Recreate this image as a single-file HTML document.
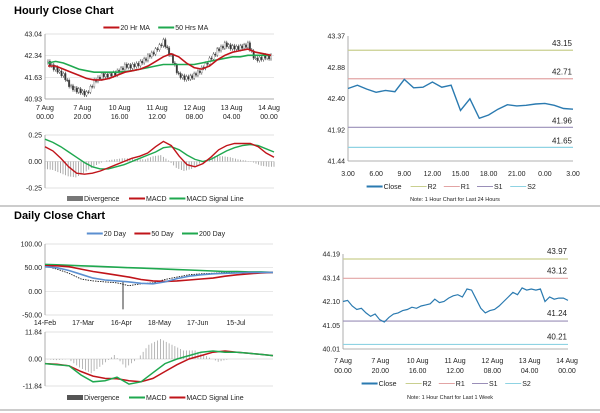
<!DOCTYPE html>
<html><head><meta charset="utf-8">
<style>
body{margin:0;background:#fff;width:600px;height:413px;overflow:hidden;font-family:"Liberation Sans",sans-serif}
svg{position:absolute;left:0;top:0}
</style></head>
<body>
<svg id="s" width="600" height="413" xmlns="http://www.w3.org/2000/svg" font-family="Liberation Sans, sans-serif">
<text x="14" y="14" font-size="11" font-weight="bold">Hourly Close Chart</text>
<text x="14" y="219" font-size="11" font-weight="bold">Daily Close Chart</text>
<line x1="0" y1="206" x2="600" y2="206" stroke="#999" stroke-width="1"/>
<line x1="0" y1="410" x2="600" y2="410" stroke="#999" stroke-width="1"/>
</svg>
<script>
// ---- data ----
const hClose=[42.1,41.9,41.7,41.3,41.2,41.1,41.5,41.7,41.7,41.8,42.0,42.0,42.1,42.3,42.5,42.8,42.3,41.7,41.6,41.7,41.9,42.2,42.5,42.7,42.6,42.6,42.7,42.2,42.3,42.3];
const hMa20=[42.0,42.0,41.9,41.8,41.7,41.6,41.55,41.55,41.6,41.7,41.8,41.85,41.9,42.0,42.15,42.3,42.4,42.3,42.1,41.95,41.9,42.0,42.2,42.35,42.45,42.5,42.55,42.45,42.4,42.35];
const hMa50=[42.1,42.15,42.1,42.0,41.9,41.85,41.8,41.8,41.8,41.8,41.82,41.85,41.9,41.95,42.0,42.05,42.05,42.05,42.05,42.05,42.1,42.15,42.2,42.25,42.3,42.3,42.35,42.35,42.35,42.35];
const hTicks=["40.93","41.63","42.34","43.04"];
const hXLabels=[["7 Aug","00.00"],["7 Aug","20.00"],["10 Aug","16.00"],["11 Aug","12.00"],["12 Aug","08.00"],["13 Aug","04.00"],["14 Aug","00.00"]];
const hMacd=[0.14,0.10,0.03,-0.05,-0.11,-0.12,-0.11,-0.09,-0.06,-0.03,0.0,0.03,0.05,0.08,0.14,0.19,0.15,0.05,-0.03,-0.05,-0.02,0.04,0.11,0.15,0.17,0.17,0.17,0.14,0.08,0.04];
const hSignal=[0.21,0.18,0.14,0.09,0.04,-0.01,-0.05,-0.07,-0.07,-0.05,-0.03,0.0,0.03,0.06,0.09,0.13,0.14,0.11,0.06,0.02,0.0,0.02,0.06,0.10,0.13,0.15,0.16,0.15,0.12,0.09];
const dayClose=[42.56,42.61,42.55,42.50,42.53,42.51,42.70,42.57,42.58,42.66,42.58,42.61,42.22,42.40,42.10,42.15,42.24,42.31,42.29,42.30,42.32,42.33,42.30,42.25,42.24];
const dayXLabels=["3.00","6.00","9.00","12.00","15.00","18.00","21.00","0.00","3.00"];
const dayLevels=[43.15,42.71,41.96,41.65];
const dayTicks=["41.44","41.92","42.40","42.88","43.37"];
const d20=[52,50,44,36,28,24,22,20,17,16,20,27,32,35,37,38,39,40,40,40];
const d50=[54,54,52,47,42,38,34,30,25,22,21,22,24,26,28,32,35,37,39,40];
const d200=[57,56,55,54,53,52,51,50,49,48,47,46,45,44,43,42,42,41,41,40];
const dPrice=[53,47,38,26,22,20,18,12,16,18,25,30,35,37,38,40,41,40,40,40];
const dSpike=[6,-38];
const dTicks=["-50.00","0.00","50.00","100.00"];
const dXLabels=["14-Feb","17-Mar","16-Apr","18-May","17-Jun","15-Jul"];
const dMacd=[-2,-2.5,-3,-7,-10,-9.5,-8,-11,-10,-6,-2,0,1.5,3,3.5,3,3,2.5,2,1.5];
const dSignal=[-2,-2.3,-3,-5.5,-7.5,-8.5,-8.7,-9.5,-10,-8.5,-5.5,-2.5,0,1.5,3,3.5,3,2.5,2,1.5];
const wClose=[42.10,42.15,41.90,41.75,41.80,41.60,41.45,41.55,41.30,41.20,41.40,41.55,41.60,41.70,41.75,41.85,41.80,41.90,41.95,42.00,42.20,42.05,42.10,42.25,42.35,42.40,42.30,42.65,42.60,42.20,41.80,41.60,41.70,41.75,41.90,42.10,42.30,42.50,42.40,42.70,42.60,42.65,42.60,42.65,42.10,42.30,42.20,42.25,42.25,42.15];
const wLevels=[43.97,43.12,41.24,40.21];
const wTicks=["40.01","41.05","42.10","43.14","44.19"];
const wXLabels=[["7 Aug","00.00"],["7 Aug","20.00"],["10 Aug","16.00"],["11 Aug","12.00"],["12 Aug","08.00"],["13 Aug","04.00"],["14 Aug","00.00"]];
const levelNames=["R2","R1","S1","S2"];
const levelColors=["#c9cf8f","#e2a4a4","#9a8fb8","#8fd3e3"];

const S=document.getElementById('s');const NS="http://www.w3.org/2000/svg";
function mk(t,a,txt){const e=document.createElementNS(NS,t);for(const k in a)e.setAttribute(k,a[k]);if(txt!==undefined)e.textContent=txt;S.appendChild(e);return e;}
function sx(x0,x1,n){return i=>x0+(x1-x0)*i/(n-1);}
function sy(y0,y1,v0,v1){return v=>y0+(y1-y0)*(v-v0)/(v1-v0);}
function line(arr,X,Y,col,w,name,dash){const p=arr.map((v,i)=>(i?'L':'M')+X(i).toFixed(1)+','+Y(v).toFixed(1)).join('');const e=mk('path',{d:p,fill:'none',stroke:col,'stroke-width':w});if(dash)e.setAttribute('stroke-dasharray',dash);

return e;}
function txt(x,y,s,anchor,name,size){const e=mk('text',{x:x,y:y,'font-size':size||7,'text-anchor':anchor||'middle',fill:'#222'},s);

return e;}
function legend(items,cx,y){let tot=0;items.forEach(it=>tot+=18+it[0].length*3.6+8);let x=cx-tot/2;items.forEach(it=>{const l=mk('line',{x1:x,y1:y-2.5,x2:x+16,y2:y-2.5,stroke:it[1],'stroke-width':it[2]||2});


txt(x+17,y,it[0],'start','legend-entry');x+=18+it[0].length*3.6+8;});}
function yaxis(x,top,bot,ticks,xr,grid,name){ticks.forEach((t,i)=>{const y=bot+(top-bot)*i/(ticks.length-1);txt(x-3,y+2.5,t,'end',name+'-tick');if(grid){const g=mk('line',{x1:x,y1:y,x2:xr,y2:y,stroke:'#d9d9d9','stroke-width':0.7});

}});
const a=mk('line',{x1:x,y1:top,x2:x,y2:bot,stroke:'#999','stroke-width':0.8});

}
function interp(arr,f){const i=Math.min(Math.floor(f),arr.length-1),j=Math.min(i+1,arr.length-1),t=f-i;return arr[i]*(1-t)+arr[j]*t;}

// ---- Hourly price (candles) ----
{const L=45,R=274,T=34,B=99;const X=sx(L+3,R-3,hClose.length),Y=sy(B,T,40.93,43.04);
yaxis(L,T,B,hTicks,R,true,'hourly-price-y');
const bx=mk('line',{x1:L,y1:B,x2:R,y2:B,stroke:'#999','stroke-width':0.8});
const sub=4,n=(hClose.length-1)*sub+1;const wob=[0.06,-0.05,0.04,-0.07];
let prev=hClose[0];
for(let k=0;k<n;k++){const f=k/sub;const c=interp(hClose,f)+wob[k%4];const o=prev;prev=c;const x=X(f);
const hi=Math.max(o,c)+0.06,lo=Math.min(o,c)-0.06;
const w=mk('line',{x1:x,y1:Y(hi),x2:x,y2:Y(lo),stroke:'#333','stroke-width':0.6});
const r=mk('rect',{x:x-0.8,y:Y(Math.max(o,c)),width:1.6,height:Math.max(0.8,Y(Math.min(o,c))-Y(Math.max(o,c))),fill:c>=o?'#fff':'#333',stroke:'#555','stroke-width':0.3});}
line(hMa50,X,Y,'#1fa84f',1.6,'ma50-line');line(hMa20,X,Y,'#c0141a',1.6,'ma20-line');
hXLabels.forEach((l,i)=>{const x=L+(269-L)*i/6;txt(x,110,l[0],'middle','hourly-x-label');txt(x,119,l[1],'middle','hourly-x-label');});
legend([["20 Hr MA","#c0141a"],["50 Hrs MA","#1fa84f"]],160,30);}
// ---- Hourly MACD ----
{const L=45,R=274,T=135,B=188;const X=sx(L,R,hMacd.length),Y=sy(B,T,-0.25,0.25);
yaxis(L,T,B,["-0.25","0.00","0.25"],R,true,'hourly-macd-y');
const n=hMacd.length*3;for(let k=0;k<n;k++){const f=k/3;const d=interp(hMacd,f)-interp(hSignal,f);const x=L+(R-L)*k/(n-1);
const b=mk('line',{x1:x,y1:Y(0),x2:x,y2:Y(d),stroke:'#999','stroke-width':0.8});}
line(hSignal,X,Y,'#1fa84f',1.4,'macd-signal-line');line(hMacd,X,Y,'#c0141a',1.4,'macd-line');
legend([["Divergence","#777",5],["MACD","#c0141a"],["MACD Signal Line","#1fa84f"]],160,201);}
// ---- 24h close ----
{const L=348,R=573,T=36,B=161;const X=sx(L,R,dayClose.length),Y=sy(B,T,41.44,43.37);
yaxis(L,T,B,dayTicks,R,false,'day-y');
const bx=mk('line',{x1:L,y1:B,x2:R,y2:B,stroke:'#999','stroke-width':0.8});
dayLevels.forEach((v,i)=>{const l=mk('line',{x1:L,y1:Y(v),x2:R,y2:Y(v),stroke:levelColors[i],'stroke-width':1.2});txt(R-1,Y(v)-4,v.toFixed(2),'end','level-label',8);});
line(dayClose,X,Y,'#2a7ab0',1.4,'close-line');
dayXLabels.forEach((l,i)=>txt(L+(R-L)*i/8,176,l,'middle','day-x-label'));
legend([["Close","#2a7ab0"],["R2",levelColors[0],1],["R1",levelColors[1],1],["S1",levelColors[2],1],["S2",levelColors[3],1]],455,189);
txt(455,201,"Note: 1 Hour Chart for Last 24 Hours",'middle','day-note',5.5);}
// ---- Daily price ----
{const L=45,R=273,T=244,B=315;const X=sx(L,R,d20.length),Y=sy(B,T,-50,100);
yaxis(L,T,B,dTicks,R,true,'daily-price-y');
const sp=mk('line',{x1:X(dSpike[0]+0.5),y1:Y(20),x2:X(dSpike[0]+0.5),y2:Y(dSpike[1]),stroke:'#555','stroke-width':1.2});
line(dPrice,X,Y,'#222',0.9,'daily-price-line','1.5,1');
line(d200,X,Y,'#1fa84f',1.6,'day200-line');line(d50,X,Y,'#c0141a',1.6,'day50-line');line(d20,X,Y,'#5b8fd0',1.6,'day20-line');
dXLabels.forEach((l,i)=>txt(L+(R-L)*i*0.1675,325,l,'middle','daily-x-label'));
legend([["20 Day","#5b8fd0"],["50 Day","#c0141a"],["200 Day","#1fa84f"]],160,236);}
// ---- Daily MACD ----
{const L=45,R=273,T=332,B=386;const X=sx(L,R,dMacd.length),Y=sy(B,T,-11.84,11.84);
yaxis(L,T,B,["-11.84","0.00","11.84"],R,true,'daily-macd-y');
const n=dMacd.length*4;for(let k=0;k<n;k++){const f=k/4;const d=interp(dMacd,f)-interp(dSignal,f);const x=L+(R-L)*k/(n-1);
const b=mk('line',{x1:x,y1:Y(0),x2:x,y2:Y(d*2.5),stroke:'#999','stroke-width':0.7});}
line(dSignal,X,Y,'#c0141a',1.5,'daily-signal-line');line(dMacd,X,Y,'#1fa84f',1.5,'daily-macd-line');
legend([["Divergence","#555",5],["MACD","#1fa84f"],["MACD Signal Line","#c0141a"]],160,400);}
// ---- Weekly close ----
{const L=343,R=568,T=254,B=349;const X=sx(L,R,wClose.length),Y=sy(B,T,40.01,44.19);
yaxis(L,T,B,wTicks,R,false,'week-y');
const bx=mk('line',{x1:L,y1:B,x2:R,y2:B,stroke:'#999','stroke-width':0.8});
wLevels.forEach((v,i)=>{const l=mk('line',{x1:L,y1:Y(v),x2:R,y2:Y(v),stroke:levelColors[i],'stroke-width':1.2});txt(R-1,Y(v)-5,v.toFixed(2),'end','week-level-label',8);});
line(wClose,X,Y,'#2a7ab0',1.2,'week-close-line');
wXLabels.forEach((l,i)=>{const x=L+(567-L)*i/6;txt(x,363,l[0],'middle','week-x-label');txt(x,373,l[1],'middle','week-x-label');});
legend([["Close","#2a7ab0"],["R2",levelColors[0],1],["R1",levelColors[1],1],["S1",levelColors[2],1],["S2",levelColors[3],1]],450,386);
txt(450,399,"Note: 1 Hour Chart for Last 1 Week",'middle','week-note',5.5);}
</script>
</body></html>
